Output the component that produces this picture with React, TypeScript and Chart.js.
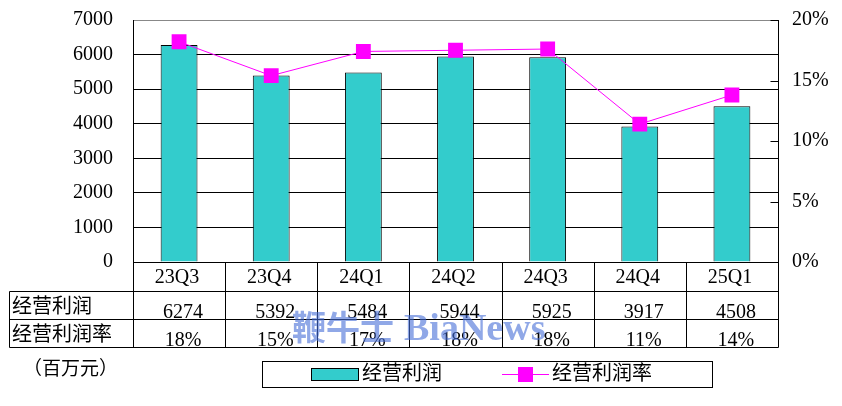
import React, { useEffect, useRef } from "react";
import { Chart, registerables } from "chart.js";

Chart.register(...registerables);

const categories = ["23Q3", "23Q4", "24Q1", "24Q2", "24Q3", "24Q4", "25Q1"];
const operatingProfit = [6274, 5392, 5484, 5944, 5925, 3917, 4508];
const operatingMargin = [18.2, 15.4, 17.4, 17.5, 17.6, 11.4, 13.8];
const marginLabels = ["18%", "15%", "17%", "18%", "18%", "11%", "14%"];
const rowLabels = ["经营利润", "经营利润率"];
const seriesNames = ["经营利润", "经营利润率"];
const unitLabel = "（百万元）";
const watermarkCn = "鞭牛士";
const watermarkEn = "BiaNews";

const BAR_COLOR = "#33CCCC";
const LINE_COLOR = "#FF00FF";
const FONT = "'Liberation Serif', 'Noto Sans CJK SC', serif";

const overlayPlugin = {
  id: "overlay",
  afterDraw(chart: any) {
    const ctx = chart.ctx as CanvasRenderingContext2D;
    const x = chart.scales.x;
    const y1 = chart.scales.y1;
    const area = chart.chartArea;
    const n = categories.length;
    const colW = (area.right - area.left) / n;
    const top = Math.round(area.bottom) + 0.5;
    const r1 = top + 29;
    const r2 = r1 + 28;
    const r3 = r2 + 28;
    const labelLeft = 9.5;
    const L = Math.round(area.left) + 0.5;
    const R = Math.round(area.right) + 0.5;

    ctx.save();
    ctx.strokeStyle = "#000";
    ctx.lineWidth = 1;
    [0, 5, 10, 15, 20].forEach((v) => {
      const py = Math.round(y1.getPixelForValue(v)) + 0.5;
      ctx.beginPath();
      ctx.moveTo(R - 8, py);
      ctx.lineTo(R, py);
      ctx.stroke();
    });

    ctx.beginPath();
    ctx.moveTo(L, top);
    ctx.lineTo(R, top);
    ctx.moveTo(labelLeft, r1);
    ctx.lineTo(R, r1);
    ctx.moveTo(labelLeft, r2);
    ctx.lineTo(R, r2);
    ctx.moveTo(labelLeft, r3);
    ctx.lineTo(R, r3);
    ctx.moveTo(labelLeft, r1);
    ctx.lineTo(labelLeft, r3);
    for (let i = 0; i <= n; i++) {
      const cx = Math.round(area.left + colW * i) + 0.5;
      ctx.moveTo(cx, top);
      ctx.lineTo(cx, r3);
    }
    ctx.stroke();

    ctx.fillStyle = "#000";
    ctx.font = `20px ${FONT}`;
    ctx.textBaseline = "alphabetic";
    ctx.textAlign = "center";
    categories.forEach((c, i) => {
      const cx = x.getPixelForValue(i);
      ctx.fillText(c, cx - 2, top + 20);
      ctx.fillText(String(operatingProfit[i]), cx + 4, r1 + 26);
      ctx.fillText(marginLabels[i], cx + 4, r2 + 26);
    });
    ctx.textAlign = "left";
    ctx.textBaseline = "middle";
    ctx.fillText(rowLabels[0], 12, r1 + 16);
    ctx.fillText(rowLabels[1], 12, r2 + 16);

    ctx.font = `19px ${FONT}`;
    ctx.fillText(unitLabel, 23, 370);

    const lx = 262.5, ly = 361.5, lw = 450, lh = 26;
    ctx.strokeStyle = "#000";
    ctx.strokeRect(lx, ly, lw, lh);
    ctx.fillStyle = BAR_COLOR;
    ctx.fillRect(311.5, 368.5, 47, 12);
    ctx.strokeRect(311.5, 368.5, 47, 12);
    ctx.fillStyle = "#000";
    ctx.font = `20px ${FONT}`;
    ctx.fillText(seriesNames[0], 362, 375);
    ctx.strokeStyle = LINE_COLOR;
    ctx.beginPath();
    ctx.moveTo(502, 374.5);
    ctx.lineTo(549, 374.5);
    ctx.stroke();
    ctx.fillStyle = LINE_COLOR;
    ctx.fillRect(518, 367, 15, 15);
    ctx.fillStyle = "#000";
    ctx.fillText(seriesNames[1], 552, 375);

    ctx.fillStyle = "rgba(70,110,215,0.6)";
    ctx.textBaseline = "alphabetic";
    ctx.font = `bold 34px 'Noto Sans CJK SC', sans-serif`;
    ctx.fillText(watermarkCn, 292, 340);
    ctx.font = `bold 38px 'Liberation Serif', serif`;
    ctx.fillText(watermarkEn, 404, 340);
    ctx.restore();
  },
};

export default function App() {
  const ref = useRef<HTMLCanvasElement | null>(null);
  useEffect(() => {
    document.body.style.margin = "0";
    const canvas = ref.current;
    if (!canvas) return;
    const chart = new Chart(canvas, {
      type: "bar",
      data: {
        labels: categories,
        datasets: [
          {
            type: "line",
            label: seriesNames[1],
            data: operatingMargin,
            yAxisID: "y1",
            borderColor: LINE_COLOR,
            backgroundColor: LINE_COLOR,
            borderWidth: 1,
            pointStyle: "rect",
            pointRadius: 10.5,
            pointBorderWidth: 0,
            pointBackgroundColor: LINE_COLOR,
            order: 0,
          } as any,
          {
            type: "bar",
            label: seriesNames[0],
            data: operatingProfit,
            yAxisID: "y",
            backgroundColor: BAR_COLOR,
            borderColor: "#000",
            borderWidth: 1,
            barPercentage: 0.8,
            categoryPercentage: 0.5,
            order: 1,
          },
        ],
      },
      options: {
        responsive: false,
        animation: false,
        devicePixelRatio: 1,
        layout: { padding: { left: 0, right: 0, top: 20, bottom: 144 } },
        plugins: { legend: { display: false }, tooltip: { enabled: false } },
        scales: {
          x: { display: false },
          y: {
            position: "left",
            min: 0,
            max: 7000,
            afterFit: (s: any) => {
              s.width = 133;
              s.paddingTop = 0;
              s.paddingBottom = 0;
            },
            ticks: {
              stepSize: 1000,
              padding: 20,
              color: "#000",
              font: { family: FONT, size: 20 },
              callback: (v: any) => String(v),
            },
            grid: {
              drawTicks: false,
              color: (c: any) => (c.tick && c.tick.value === 7000 ? "#888" : "#000"),
              lineWidth: 1,
            },
            border: { display: true, color: "#000" },
          },
          y1: {
            position: "right",
            min: 0,
            max: 20,
            afterFit: (s: any) => {
              s.width = 64;
              s.paddingTop = 0;
              s.paddingBottom = 0;
            },
            ticks: {
              stepSize: 5,
              padding: 14,
              color: "#000",
              font: { family: FONT, size: 20 },
              callback: (v: any) => `${v}%`,
            },
            grid: { display: false, drawTicks: false },
            border: { display: true, color: "#000" },
          },
        },
      },
      plugins: [overlayPlugin],
    });
    return () => chart.destroy();
  }, []);
  return (
    <div style={{ position: "fixed", left: 0, top: 0, width: 842, height: 406, background: "#fff" }}>
      <canvas ref={ref} width={842} height={406} />
    </div>
  );
}
